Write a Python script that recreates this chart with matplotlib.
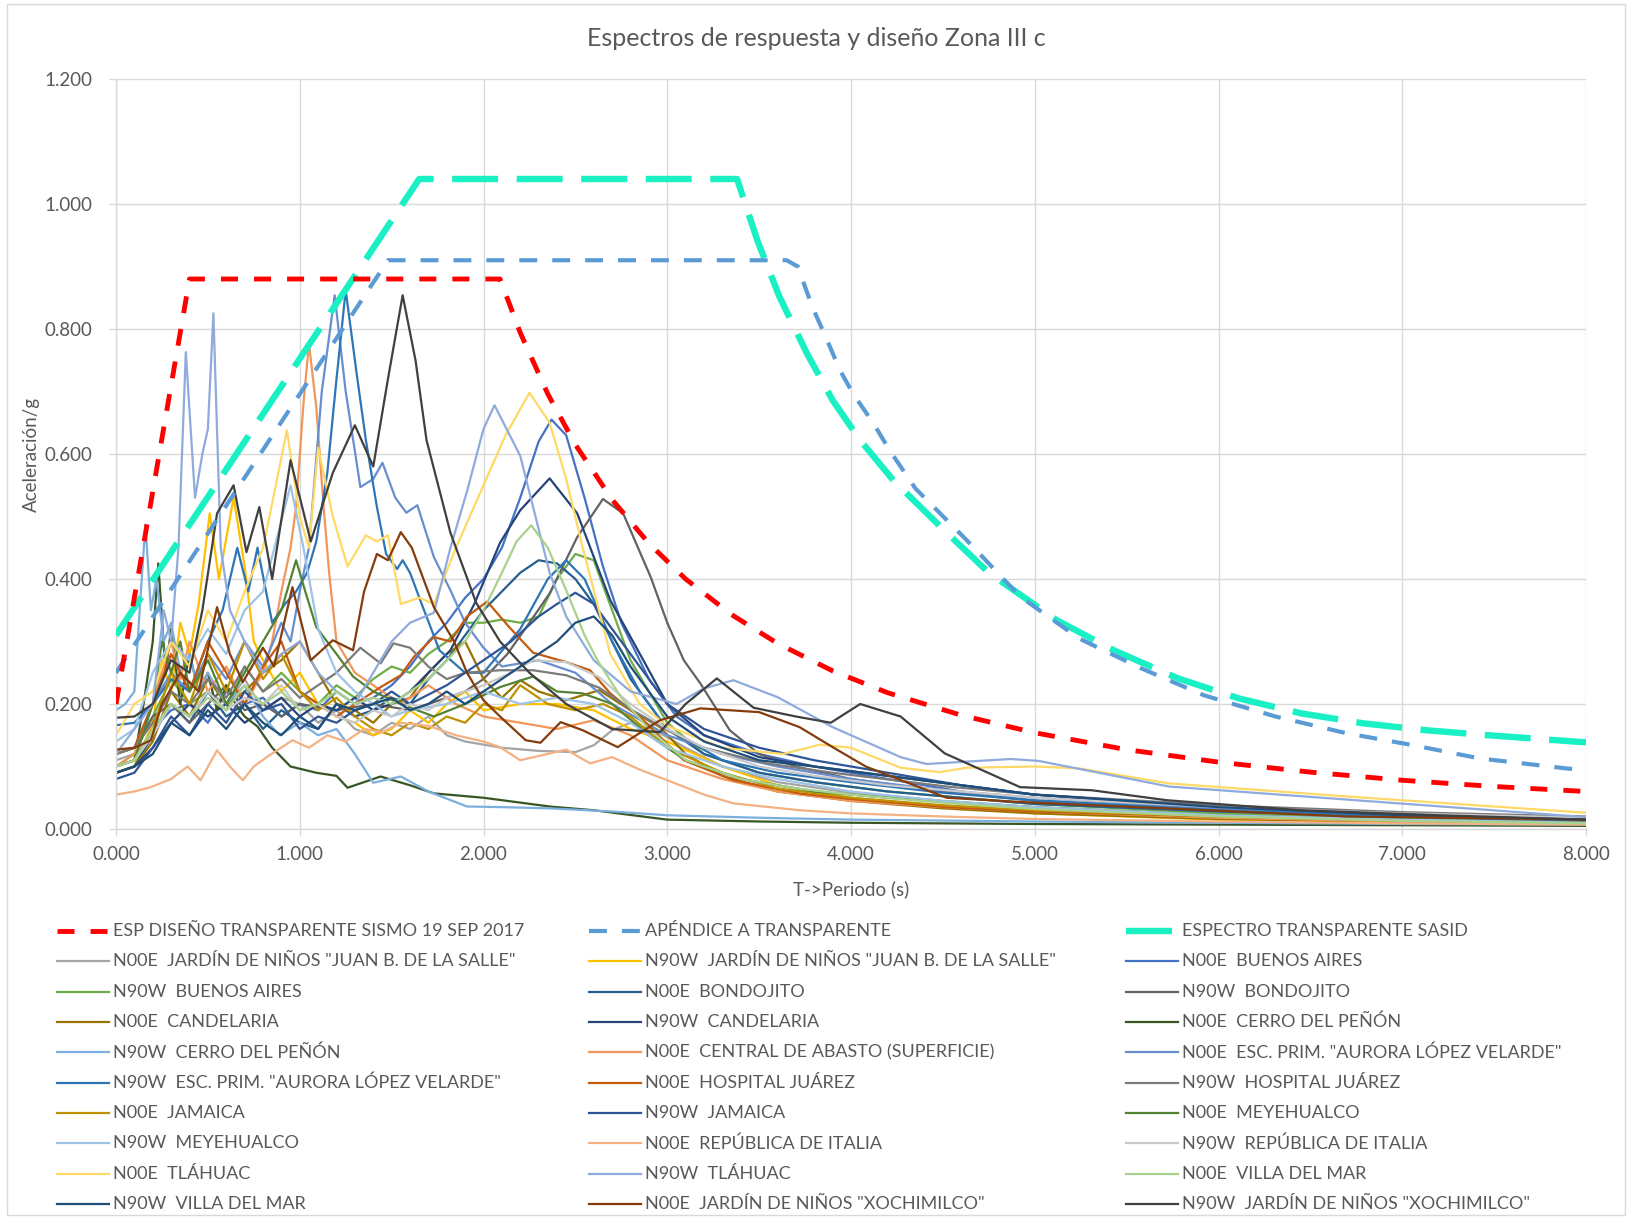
import matplotlib
matplotlib.use("Agg")
import matplotlib.pyplot as plt
from matplotlib.lines import Line2D
from matplotlib.patches import Rectangle

plt.rcParams['font.family'] = ['Lato', 'DejaVu Sans']

# ---------------- design spectra ----------------
red_t = [0.0, 0.40, 2.09, 2.2, 2.35, 2.5, 2.7, 2.9, 3.1, 3.35, 3.6, 3.9, 4.2, 4.6, 5.0, 5.5, 6.0, 6.5, 7.0, 7.5, 8.0]
red_sa = [0.20, 0.88, 0.88, 0.794, 0.696, 0.615, 0.527, 0.457, 0.400, 0.343, 0.297, 0.253, 0.218, 0.182, 0.154, 0.127, 0.107, 0.091, 0.078, 0.068, 0.060]

apa_t = [0.0, 1.48, 3.65, 3.71, 3.79, 3.87, 3.94, 4.01, 4.12, 4.21, 4.35, 4.63, 4.92, 5.24, 5.58, 5.92, 6.31, 6.70, 7.06, 7.42, 7.89, 8.0]
apa_sa = [0.25, 0.91, 0.91, 0.90, 0.835, 0.782, 0.734, 0.697, 0.65, 0.606, 0.545, 0.462, 0.372, 0.305, 0.257, 0.214, 0.18, 0.153, 0.134, 0.113, 0.097, 0.094]

sasid_t = [0.0, 1.65, 3.38, 3.49, 3.61, 3.76, 3.90, 4.05, 4.23, 4.5, 4.75, 5.12, 5.43, 5.78, 6.11, 6.45, 6.79, 7.13, 7.47, 7.98, 8.0]
sasid_sa = [0.31, 1.04, 1.04, 0.942, 0.852, 0.761, 0.686, 0.622, 0.558, 0.48, 0.41, 0.334, 0.286, 0.241, 0.209, 0.185, 0.169, 0.158, 0.150, 0.139, 0.139]

# ---------------- recorded response spectra ----------------
juanb_n00e_t = [0, 0.1, 0.2, 0.3, 0.4, 0.5, 0.6, 0.7, 0.8, 0.9, 1.0, 1.1, 1.2, 1.3, 1.4, 1.5, 1.6, 1.7, 1.8, 1.9, 2.0, 2.1, 2.3, 2.5, 2.6, 2.7, 2.8, 2.95, 3.1, 3.3, 3.6, 4.0, 4.5, 5.0, 6.0, 7.0, 8.0]
juanb_n00e_sa = [0.11, 0.12, 0.15, 0.2, 0.18, 0.22, 0.2, 0.24, 0.19, 0.21, 0.2, 0.17, 0.19, 0.16, 0.15, 0.17, 0.16, 0.18, 0.15, 0.14, 0.135, 0.13, 0.125, 0.123, 0.134, 0.158, 0.17, 0.155, 0.13, 0.1, 0.075, 0.058, 0.045, 0.035, 0.022, 0.015, 0.01]

juanb_n90w_t = [0, 0.1, 0.2, 0.25, 0.3, 0.35, 0.4, 0.45, 0.51, 0.56, 0.64, 0.7, 0.75, 0.8, 0.9, 1.0, 1.1, 1.2, 1.3, 1.4, 1.5, 1.6, 1.7, 1.8, 1.9, 2.0, 2.2, 2.4, 2.6, 2.8, 3.0, 3.3, 3.6, 4.0, 4.5, 5.0, 6.0, 7.0, 8.0]
juanb_n90w_sa = [0.09, 0.1, 0.17, 0.27, 0.22, 0.33, 0.28, 0.36, 0.505, 0.4, 0.53, 0.42, 0.3, 0.27, 0.22, 0.25, 0.2, 0.18, 0.17, 0.15, 0.16, 0.19, 0.17, 0.2, 0.22, 0.19, 0.2, 0.2, 0.19, 0.16, 0.14, 0.1, 0.07, 0.05, 0.035, 0.025, 0.015, 0.01, 0.008]

bsas_n00e_t = [0, 0.1, 0.2, 0.3, 0.4, 0.5, 0.6, 0.7, 0.8, 0.9, 1.0, 1.1, 1.2, 1.3, 1.4, 1.5, 1.6, 1.7, 1.8, 1.9, 2.0, 2.1, 2.2, 2.3, 2.37, 2.45, 2.55, 2.65, 2.75, 2.9, 3.05, 3.2, 3.5, 3.8, 4.2, 4.6, 5.0, 5.5, 6.0, 7.0, 8.0]
bsas_n00e_sa = [0.1, 0.11, 0.16, 0.19, 0.2, 0.17, 0.22, 0.2, 0.21, 0.18, 0.2, 0.19, 0.22, 0.2, 0.21, 0.23, 0.26, 0.3, 0.33, 0.37, 0.4, 0.45, 0.53, 0.62, 0.655, 0.63, 0.53, 0.42, 0.33, 0.24, 0.18, 0.15, 0.12, 0.1, 0.08, 0.06, 0.045, 0.035, 0.028, 0.018, 0.012]

bsas_n90w_t = [0, 0.1, 0.2, 0.3, 0.4, 0.5, 0.6, 0.7, 0.8, 0.9, 1.0, 1.1, 1.2, 1.3, 1.4, 1.5, 1.6, 1.7, 1.8, 1.9, 2.0, 2.1, 2.2, 2.3, 2.4, 2.5, 2.6, 2.7, 2.8, 3.0, 3.2, 3.5, 3.8, 4.2, 4.6, 5.0, 6.0, 7.0, 8.0]
bsas_n90w_sa = [0.1, 0.12, 0.18, 0.24, 0.2, 0.22, 0.19, 0.26, 0.22, 0.25, 0.22, 0.2, 0.23, 0.21, 0.24, 0.26, 0.25, 0.28, 0.3, 0.33, 0.33, 0.335, 0.33, 0.34, 0.4, 0.44, 0.43, 0.35, 0.27, 0.17, 0.12, 0.09, 0.075, 0.06, 0.05, 0.04, 0.025, 0.016, 0.01]

bond_n00e_t = [0, 0.1, 0.2, 0.3, 0.4, 0.5, 0.6, 0.7, 0.8, 0.9, 1.0, 1.1, 1.2, 1.3, 1.4, 1.5, 1.6, 1.7, 1.8, 1.9, 2.0, 2.1, 2.2, 2.3, 2.4, 2.5, 2.6, 2.7, 2.8, 3.0, 3.2, 3.5, 3.8, 4.2, 4.6, 5.0, 6.0, 7.0, 8.0]
bond_n00e_sa = [0.09, 0.1, 0.15, 0.2, 0.17, 0.22, 0.18, 0.2, 0.16, 0.19, 0.17, 0.16, 0.2, 0.18, 0.19, 0.21, 0.2, 0.24, 0.27, 0.31, 0.35, 0.38, 0.41, 0.43, 0.425, 0.4, 0.36, 0.3, 0.24, 0.16, 0.12, 0.09, 0.075, 0.06, 0.05, 0.04, 0.028, 0.02, 0.014]

bond_n90w_t = [0, 0.1, 0.2, 0.3, 0.4, 0.5, 0.6, 0.7, 0.8, 0.9, 1.0, 1.2, 1.4, 1.6, 1.8, 1.9, 2.0, 2.13, 2.25, 2.36, 2.51, 2.65, 2.76, 2.91, 3.0, 3.09, 3.18, 3.34, 3.5, 3.7, 4.0, 4.5, 5.0, 6.0, 7.0, 8.0]
bond_n90w_sa = [0.12, 0.13, 0.18, 0.2, 0.17, 0.2, 0.23, 0.19, 0.2, 0.18, 0.2, 0.19, 0.2, 0.19, 0.21, 0.22, 0.24, 0.28, 0.33, 0.377, 0.467, 0.528, 0.505, 0.403, 0.33, 0.27, 0.233, 0.158, 0.12, 0.1, 0.08, 0.06, 0.045, 0.03, 0.02, 0.013]

cand_n00e_t = [0, 0.1, 0.2, 0.3, 0.4, 0.5, 0.6, 0.7, 0.8, 0.9, 1.0, 1.1, 1.2, 1.3, 1.4, 1.5, 1.6, 1.7, 1.8, 1.9, 2.0, 2.1, 2.2, 2.3, 2.45, 2.63, 2.8, 2.96, 3.1, 3.3, 3.6, 4.0, 4.5, 5.0, 6.0, 7.0, 8.0]
cand_n00e_sa = [0.09, 0.1, 0.14, 0.22, 0.18, 0.24, 0.2, 0.22, 0.25, 0.27, 0.3, 0.25, 0.2, 0.19, 0.17, 0.2, 0.21, 0.25, 0.28, 0.3, 0.24, 0.21, 0.238, 0.22, 0.206, 0.222, 0.19, 0.163, 0.12, 0.085, 0.06, 0.045, 0.033, 0.025, 0.016, 0.011, 0.008]

cand_n90w_t = [0, 0.1, 0.2, 0.3, 0.4, 0.5, 0.6, 0.7, 0.8, 0.9, 1.0, 1.1, 1.2, 1.3, 1.4, 1.5, 1.6, 1.7, 1.82, 1.95, 2.09, 2.2, 2.36, 2.51, 2.69, 2.87, 3.0, 3.2, 3.5, 3.8, 4.2, 4.6, 5.0, 6.0, 7.0, 8.0]
cand_n90w_sa = [0.09, 0.1, 0.13, 0.17, 0.2, 0.18, 0.2, 0.17, 0.19, 0.21, 0.18, 0.2, 0.19, 0.21, 0.19, 0.2, 0.22, 0.25, 0.286, 0.36, 0.458, 0.51, 0.561, 0.505, 0.366, 0.27, 0.2, 0.15, 0.115, 0.1, 0.085, 0.07, 0.055, 0.035, 0.022, 0.015]

cerro_n00e_t = [0, 0.1, 0.15, 0.2, 0.23, 0.27, 0.3, 0.35, 0.4, 0.45, 0.5, 0.55, 0.6, 0.65, 0.7, 0.77, 0.85, 0.95, 1.09, 1.2, 1.26, 1.35, 1.44, 1.6, 1.73, 2.0, 2.36, 2.6, 3.0, 3.5, 4.0, 5.0, 6.0, 7.0, 8.0]
cerro_n00e_sa = [0.1, 0.11, 0.2, 0.3, 0.425, 0.25, 0.32, 0.2, 0.28, 0.22, 0.25, 0.19, 0.23, 0.2, 0.18, 0.164, 0.13, 0.1, 0.09, 0.085, 0.066, 0.075, 0.084, 0.07, 0.057, 0.05, 0.036, 0.03, 0.015, 0.012, 0.01, 0.008, 0.007, 0.006, 0.005]

cerro_n90w_t = [0, 0.05, 0.1, 0.14, 0.16, 0.19, 0.22, 0.26, 0.3, 0.35, 0.4, 0.45, 0.5, 0.6, 0.7, 0.8, 0.89, 1.0, 1.1, 1.2, 1.3, 1.4, 1.55, 1.7, 1.91, 2.1, 2.36, 2.7, 3.0, 3.5, 4.0, 5.0, 6.0, 7.0, 8.0]
cerro_n90w_sa = [0.19, 0.2, 0.22, 0.4, 0.487, 0.35, 0.4, 0.3, 0.33, 0.25, 0.28, 0.22, 0.25, 0.2, 0.23, 0.18, 0.15, 0.17, 0.15, 0.16, 0.12, 0.074, 0.084, 0.06, 0.036, 0.035, 0.033, 0.028, 0.022, 0.018, 0.015, 0.012, 0.01, 0.008, 0.007]

abasto_n00e_t = [0, 0.1, 0.2, 0.3, 0.35, 0.4, 0.5, 0.6, 0.7, 0.8, 0.85, 0.9, 0.95, 0.98, 1.02, 1.05, 1.09, 1.13, 1.16, 1.2, 1.3, 1.45, 1.55, 1.7, 1.85, 2.0, 2.2, 2.4, 2.6, 2.8, 3.0, 3.3, 3.6, 4.0, 4.5, 5.0, 6.0, 7.0, 8.0]
abasto_n00e_sa = [0.1, 0.12, 0.2, 0.3, 0.24, 0.3, 0.22, 0.26, 0.2, 0.25, 0.3, 0.38, 0.45, 0.515, 0.68, 0.777, 0.675, 0.515, 0.41, 0.3, 0.25, 0.22, 0.2, 0.23, 0.2, 0.18, 0.17, 0.16, 0.174, 0.15, 0.11, 0.08, 0.06, 0.045, 0.035, 0.028, 0.018, 0.012, 0.009]

escp_n00e_t = [0, 0.1, 0.2, 0.3, 0.4, 0.5, 0.6, 0.7, 0.8, 0.9, 0.95, 1.0, 1.05, 1.12, 1.19, 1.25, 1.33, 1.4, 1.45, 1.52, 1.58, 1.64, 1.73, 1.82, 1.9, 2.0, 2.1, 2.3, 2.5, 2.7, 3.0, 3.3, 3.6, 4.0, 4.5, 5.0, 6.0, 7.0, 8.0]
escp_n00e_sa = [0.12, 0.13, 0.2, 0.25, 0.22, 0.28, 0.24, 0.3, 0.26, 0.33, 0.3, 0.38, 0.45, 0.7, 0.854, 0.7, 0.547, 0.56, 0.586, 0.53, 0.506, 0.518, 0.435, 0.382, 0.33, 0.29, 0.26, 0.27, 0.25, 0.2, 0.15, 0.12, 0.1, 0.08, 0.062, 0.05, 0.032, 0.022, 0.015]

escp_n90w_t = [0, 0.1, 0.2, 0.3, 0.4, 0.5, 0.58, 0.66, 0.72, 0.77, 0.85, 0.92, 0.98, 1.04, 1.09, 1.15, 1.2, 1.25, 1.31, 1.36, 1.42, 1.47, 1.53, 1.56, 1.6, 1.67, 1.76, 1.9, 2.0, 2.2, 2.35, 2.45, 2.55, 2.7, 2.85, 3.0, 3.3, 3.6, 4.0, 4.5, 5.0, 6.0, 7.0, 8.0]
escp_n90w_sa = [0.166, 0.17, 0.2, 0.24, 0.22, 0.3, 0.35, 0.45, 0.38, 0.45, 0.33, 0.36, 0.38, 0.41, 0.46, 0.57, 0.72, 0.862, 0.728, 0.622, 0.515, 0.44, 0.416, 0.43, 0.41, 0.355, 0.286, 0.25, 0.25, 0.32, 0.4, 0.43, 0.4, 0.3, 0.22, 0.16, 0.11, 0.09, 0.075, 0.058, 0.046, 0.03, 0.02, 0.014]

hosp_n00e_t = [0, 0.1, 0.2, 0.3, 0.4, 0.5, 0.6, 0.7, 0.8, 0.9, 1.0, 1.1, 1.2, 1.3, 1.44, 1.55, 1.62, 1.73, 1.82, 1.91, 2.02, 2.14, 2.27, 2.45, 2.58, 2.69, 2.87, 3.09, 3.36, 3.72, 4.0, 4.52, 5.0, 6.0, 7.0, 8.0]
hosp_n00e_sa = [0.12, 0.13, 0.2, 0.28, 0.22, 0.3, 0.25, 0.2, 0.26, 0.3, 0.22, 0.2, 0.18, 0.2, 0.227, 0.246, 0.275, 0.307, 0.3, 0.34, 0.364, 0.323, 0.282, 0.267, 0.254, 0.217, 0.174, 0.11, 0.078, 0.057, 0.048, 0.035, 0.028, 0.02, 0.014, 0.01]

hosp_n90w_t = [0, 0.1, 0.2, 0.3, 0.4, 0.5, 0.6, 0.7, 0.8, 0.9, 1.0, 1.1, 1.2, 1.33, 1.44, 1.51, 1.6, 1.7, 1.8, 1.9, 2.09, 2.27, 2.45, 2.63, 2.81, 3.0, 3.2, 3.54, 3.9, 4.52, 5.0, 6.0, 7.0, 8.0]
hosp_n90w_sa = [0.12, 0.13, 0.17, 0.22, 0.2, 0.24, 0.21, 0.26, 0.22, 0.24, 0.21, 0.23, 0.25, 0.29, 0.265, 0.297, 0.29, 0.26, 0.24, 0.25, 0.254, 0.254, 0.246, 0.226, 0.19, 0.158, 0.13, 0.105, 0.09, 0.068, 0.055, 0.038, 0.027, 0.02]

jam_n00e_t = [0, 0.1, 0.2, 0.3, 0.4, 0.5, 0.6, 0.7, 0.8, 0.9, 1.0, 1.1, 1.2, 1.3, 1.4, 1.5, 1.6, 1.7, 1.8, 1.9, 2.0, 2.1, 2.2, 2.35, 2.5, 2.65, 2.8, 3.0, 3.3, 3.6, 4.0, 4.5, 5.0, 6.0, 7.0, 8.0]
jam_n00e_sa = [0.1, 0.11, 0.16, 0.25, 0.2, 0.28, 0.22, 0.3, 0.24, 0.28, 0.22, 0.19, 0.21, 0.18, 0.16, 0.15, 0.17, 0.16, 0.18, 0.17, 0.2, 0.19, 0.23, 0.2, 0.19, 0.2, 0.18, 0.13, 0.09, 0.065, 0.05, 0.038, 0.03, 0.02, 0.013, 0.009]

jam_n90w_t = [0, 0.1, 0.2, 0.3, 0.4, 0.5, 0.6, 0.7, 0.8, 0.9, 1.0, 1.1, 1.2, 1.3, 1.4, 1.5, 1.6, 1.8, 2.0, 2.15, 2.3, 2.4, 2.5, 2.6, 2.7, 2.85, 3.0, 3.2, 3.5, 3.8, 4.2, 4.6, 5.0, 6.0, 7.0, 8.0]
jam_n90w_sa = [0.08, 0.09, 0.13, 0.18, 0.15, 0.2, 0.17, 0.22, 0.19, 0.2, 0.16, 0.18, 0.17, 0.19, 0.2, 0.22, 0.2, 0.23, 0.27, 0.3, 0.34, 0.36, 0.378, 0.36, 0.32, 0.26, 0.2, 0.16, 0.13, 0.11, 0.09, 0.07, 0.055, 0.035, 0.023, 0.015]

mey_n00e_t = [0, 0.1, 0.2, 0.25, 0.3, 0.35, 0.4, 0.5, 0.6, 0.7, 0.8, 0.9, 0.98, 1.03, 1.09, 1.2, 1.29, 1.4, 1.55, 1.73, 1.9, 2.09, 2.27, 2.4, 2.54, 2.7, 2.9, 3.1, 3.4, 3.8, 4.2, 5.0, 6.0, 7.0, 8.0]
mey_n00e_sa = [0.1, 0.11, 0.2, 0.3, 0.25, 0.3, 0.22, 0.27, 0.2, 0.25, 0.3, 0.35, 0.43, 0.38, 0.323, 0.28, 0.244, 0.22, 0.2, 0.18, 0.2, 0.227, 0.244, 0.22, 0.217, 0.2, 0.15, 0.11, 0.08, 0.06, 0.05, 0.035, 0.022, 0.015, 0.01]

mey_n90w_t = [0, 0.1, 0.2, 0.3, 0.4, 0.5, 0.6, 0.7, 0.8, 0.88, 0.95, 1.02, 1.1, 1.2, 1.3, 1.4, 1.5, 1.6, 1.8, 2.0, 2.2, 2.4, 2.6, 2.8, 3.0, 3.3, 3.6, 4.0, 4.5, 5.0, 6.0, 7.0, 8.0]
mey_n90w_sa = [0.14, 0.16, 0.25, 0.3, 0.27, 0.32, 0.28, 0.35, 0.38, 0.47, 0.55, 0.45, 0.32, 0.25, 0.22, 0.2, 0.18, 0.19, 0.2, 0.22, 0.2, 0.21, 0.2, 0.17, 0.13, 0.1, 0.08, 0.06, 0.045, 0.035, 0.022, 0.015, 0.01]

ital_n00e_t = [0, 0.1, 0.19, 0.3, 0.39, 0.46, 0.55, 0.62, 0.69, 0.75, 0.82, 0.96, 1.05, 1.15, 1.25, 1.35, 1.45, 1.55, 1.7, 1.85, 2.0, 2.09, 2.2, 2.45, 2.58, 2.7, 2.85, 3.0, 3.2, 3.36, 3.72, 4.0, 4.5, 5.0, 6.0, 7.0, 8.0]
ital_n00e_sa = [0.055, 0.06, 0.067, 0.08, 0.1, 0.078, 0.126, 0.1, 0.078, 0.1, 0.115, 0.142, 0.13, 0.15, 0.14, 0.16, 0.155, 0.17, 0.165, 0.15, 0.14, 0.131, 0.11, 0.127, 0.105, 0.115, 0.095, 0.078, 0.055, 0.041, 0.03, 0.025, 0.02, 0.016, 0.012, 0.009, 0.007]

ital_n90w_t = [0, 0.1, 0.2, 0.3, 0.4, 0.5, 0.6, 0.7, 0.8, 0.9, 1.0, 1.1, 1.2, 1.3, 1.4, 1.5, 1.6, 1.7, 1.8, 1.9, 2.0, 2.15, 2.27, 2.45, 2.63, 2.8, 3.0, 3.2, 3.5, 3.8, 4.2, 4.6, 5.0, 6.0, 7.0, 8.0]
ital_n90w_sa = [0.1, 0.11, 0.15, 0.2, 0.18, 0.22, 0.19, 0.21, 0.2, 0.23, 0.19, 0.2, 0.18, 0.17, 0.19, 0.18, 0.2, 0.19, 0.21, 0.22, 0.23, 0.25, 0.27, 0.267, 0.243, 0.2, 0.16, 0.13, 0.1, 0.085, 0.07, 0.06, 0.05, 0.035, 0.025, 0.018]

tlah_n00e_t = [0, 0.1, 0.2, 0.3, 0.4, 0.5, 0.6, 0.7, 0.8, 0.87, 0.93, 1.0, 1.05, 1.1, 1.18, 1.26, 1.36, 1.42, 1.48, 1.55, 1.65, 1.73, 1.85, 2.0, 2.12, 2.25, 2.36, 2.45, 2.54, 2.69, 2.85, 3.0, 3.3, 3.63, 3.83, 4.0, 4.27, 4.48, 4.63, 5.0, 5.24, 5.73, 6.7, 8.0]
tlah_n00e_sa = [0.15, 0.2, 0.22, 0.3, 0.26, 0.35, 0.3, 0.38, 0.45, 0.55, 0.638, 0.5, 0.45, 0.61, 0.5, 0.42, 0.47, 0.46, 0.47, 0.36, 0.37, 0.36, 0.45, 0.55, 0.63, 0.698, 0.65, 0.56, 0.45, 0.28, 0.2, 0.165, 0.13, 0.12, 0.135, 0.13, 0.098, 0.091, 0.098, 0.1, 0.097, 0.073, 0.052, 0.026]

tlah_n90w_t = [0, 0.1, 0.2, 0.26, 0.3, 0.34, 0.38, 0.43, 0.47, 0.5, 0.53, 0.57, 0.62, 0.7, 0.8, 0.9, 1.0, 1.1, 1.2, 1.3, 1.4, 1.5, 1.6, 1.73, 1.82, 1.91, 2.0, 2.06, 2.2, 2.27, 2.36, 2.45, 2.6, 2.8, 3.05, 3.2, 3.36, 3.6, 3.9, 4.27, 4.41, 4.87, 5.02, 5.73, 8.0]
tlah_n90w_sa = [0.12, 0.16, 0.2, 0.35, 0.3, 0.45, 0.763, 0.53, 0.6, 0.64, 0.825, 0.45, 0.35, 0.3, 0.25, 0.28, 0.3, 0.25, 0.22, 0.2, 0.25, 0.3, 0.33, 0.346, 0.45, 0.54, 0.64, 0.678, 0.597, 0.515, 0.41, 0.34, 0.27, 0.22, 0.2, 0.225, 0.238, 0.211, 0.163, 0.115, 0.104, 0.112, 0.109, 0.068, 0.019]

vmar_n00e_t = [0, 0.1, 0.2, 0.3, 0.4, 0.5, 0.6, 0.7, 0.8, 0.9, 1.0, 1.1, 1.2, 1.3, 1.4, 1.5, 1.6, 1.7, 1.8, 1.9, 2.0, 2.1, 2.18, 2.26, 2.35, 2.45, 2.55, 2.62, 2.75, 2.9, 3.1, 3.4, 3.7, 4.0, 4.5, 5.0, 6.0, 7.0, 8.0]
vmar_n00e_sa = [0.1, 0.11, 0.16, 0.2, 0.18, 0.21, 0.19, 0.23, 0.2, 0.22, 0.19, 0.2, 0.22, 0.2, 0.21, 0.2, 0.22, 0.24, 0.27, 0.3, 0.35, 0.41, 0.46, 0.486, 0.45, 0.382, 0.31, 0.27, 0.21, 0.16, 0.11, 0.08, 0.065, 0.055, 0.042, 0.032, 0.02, 0.013, 0.009]

vmar_n90w_t = [0, 0.1, 0.2, 0.3, 0.4, 0.5, 0.6, 0.7, 0.8, 0.9, 1.0, 1.1, 1.2, 1.3, 1.4, 1.5, 1.6, 1.7, 1.8, 1.9, 2.0, 2.1, 2.2, 2.3, 2.4, 2.5, 2.6, 2.7, 2.8, 3.0, 3.2, 3.5, 3.8, 4.2, 4.6, 5.0, 6.0, 7.0, 8.0]
vmar_n90w_sa = [0.09, 0.1, 0.12, 0.17, 0.15, 0.19, 0.16, 0.2, 0.17, 0.15, 0.18, 0.16, 0.2, 0.19, 0.2, 0.21, 0.19, 0.2, 0.22, 0.2, 0.22, 0.24, 0.26, 0.28, 0.3, 0.33, 0.34, 0.31, 0.26, 0.18, 0.14, 0.11, 0.1, 0.085, 0.07, 0.055, 0.035, 0.022, 0.015]

xoch_n00e_t = [0, 0.1, 0.19, 0.25, 0.35, 0.45, 0.55, 0.62, 0.69, 0.8, 0.86, 0.96, 1.06, 1.18, 1.29, 1.35, 1.42, 1.48, 1.55, 1.61, 1.73, 1.84, 1.91, 2.0, 2.09, 2.23, 2.31, 2.42, 2.54, 2.73, 2.96, 3.18, 3.5, 3.72, 3.9, 4.08, 4.52, 5.0, 5.72, 6.7, 8.0]
xoch_n00e_sa = [0.127, 0.13, 0.142, 0.2, 0.25, 0.22, 0.355, 0.28, 0.235, 0.29, 0.26, 0.387, 0.27, 0.302, 0.286, 0.38, 0.44, 0.43, 0.475, 0.45, 0.355, 0.3, 0.25, 0.206, 0.18, 0.142, 0.138, 0.171, 0.158, 0.131, 0.174, 0.193, 0.187, 0.163, 0.131, 0.1, 0.05, 0.042, 0.033, 0.02, 0.015]

xoch_n90w_t = [0, 0.1, 0.2, 0.3, 0.4, 0.47, 0.55, 0.64, 0.71, 0.78, 0.85, 0.95, 1.06, 1.18, 1.3, 1.4, 1.48, 1.56, 1.63, 1.69, 1.82, 1.96, 2.09, 2.25, 2.45, 2.7, 2.96, 3.1, 3.27, 3.47, 3.7, 3.89, 4.05, 4.27, 4.51, 4.92, 5.31, 5.72, 6.45, 7.2, 8.0]
xoch_n90w_sa = [0.178, 0.18, 0.2, 0.27, 0.25, 0.35, 0.505, 0.55, 0.443, 0.515, 0.4, 0.59, 0.46, 0.57, 0.646, 0.58, 0.72, 0.854, 0.75, 0.622, 0.474, 0.362, 0.3, 0.25, 0.2, 0.16, 0.155, 0.2, 0.241, 0.194, 0.18, 0.17, 0.2, 0.18, 0.121, 0.067, 0.062, 0.046, 0.03, 0.022, 0.015]

design_labels = ["ESP DISEÑO TRANSPARENTE SISMO 19 SEP 2017",
                 "APÉNDICE A TRANSPARENTE",
                 "ESPECTRO TRANSPARENTE SASID"]

record_labels = [
    'N00E  JARDÍN DE NIÑOS "JUAN B. DE LA SALLE"',
    'N90W  JARDÍN DE NIÑOS "JUAN B. DE LA SALLE"',
    'N00E  BUENOS AIRES',
    'N90W  BUENOS AIRES',
    'N00E  BONDOJITO',
    'N90W  BONDOJITO',
    'N00E  CANDELARIA',
    'N90W  CANDELARIA',
    'N00E  CERRO DEL PEÑÓN',
    'N90W  CERRO DEL PEÑÓN',
    'N00E  CENTRAL DE ABASTO (SUPERFICIE)',
    'N00E  ESC. PRIM. "AURORA LÓPEZ VELARDE"',
    'N90W  ESC. PRIM. "AURORA LÓPEZ VELARDE"',
    'N00E  HOSPITAL JUÁREZ',
    'N90W  HOSPITAL JUÁREZ',
    'N00E  JAMAICA',
    'N90W  JAMAICA',
    'N00E  MEYEHUALCO',
    'N90W  MEYEHUALCO',
    'N00E  REPÚBLICA DE ITALIA',
    'N90W  REPÚBLICA DE ITALIA',
    'N00E  TLÁHUAC',
    'N90W  TLÁHUAC',
    'N00E  VILLA DEL MAR',
    'N90W  VILLA DEL MAR',
    'N00E  JARDÍN DE NIÑOS "XOCHIMILCO"',
    'N90W  JARDÍN DE NIÑOS "XOCHIMILCO"',
]

record_t = [juanb_n00e_t, juanb_n90w_t, bsas_n00e_t, bsas_n90w_t, bond_n00e_t, bond_n90w_t,
            cand_n00e_t, cand_n90w_t, cerro_n00e_t, cerro_n90w_t, abasto_n00e_t, escp_n00e_t,
            escp_n90w_t, hosp_n00e_t, hosp_n90w_t, jam_n00e_t, jam_n90w_t, mey_n00e_t,
            mey_n90w_t, ital_n00e_t, ital_n90w_t, tlah_n00e_t, tlah_n90w_t, vmar_n00e_t,
            vmar_n90w_t, xoch_n00e_t, xoch_n90w_t]
record_sa = [juanb_n00e_sa, juanb_n90w_sa, bsas_n00e_sa, bsas_n90w_sa, bond_n00e_sa, bond_n90w_sa,
             cand_n00e_sa, cand_n90w_sa, cerro_n00e_sa, cerro_n90w_sa, abasto_n00e_sa, escp_n00e_sa,
             escp_n90w_sa, hosp_n00e_sa, hosp_n90w_sa, jam_n00e_sa, jam_n90w_sa, mey_n00e_sa,
             mey_n90w_sa, ital_n00e_sa, ital_n90w_sa, tlah_n00e_sa, tlah_n90w_sa, vmar_n00e_sa,
             vmar_n90w_sa, xoch_n00e_sa, xoch_n90w_sa]

record_colors = ['#A5A5A5', '#FFC000', '#4472C4', '#70AD47', '#255E91', '#636363',
                 '#997300', '#264478', '#375623', '#7CAFDD', '#F1975A', '#698ED0',
                 '#2E75B6', '#C55A11', '#7B7B7B', '#BF9000', '#2F5597', '#548235',
                 '#9DC3E6', '#F4B183', '#C9C9C9', '#FFD966', '#8FAADC', '#A9D18E',
                 '#1F4E79', '#843C0C', '#404040']

# ---------------- figure ----------------
W, H = 1630, 1217
fig = plt.figure(figsize=(W / 100, H / 100), dpi=100)
fig.patch.set_facecolor('white')
fig.add_artist(Rectangle((7 / W, 2 / H), (1625 - 7) / W, (1213 - 2) / H,
                         transform=fig.transFigure, fill=False,
                         edgecolor='#D9D9D9', linewidth=1.0))

ax = fig.add_axes([116 / W, 1 - 829 / H, (1586 - 116) / W, (829 - 79) / H])
ax.set_xlim(0, 8)
ax.set_ylim(0, 1.2)
ax.set_xticks([0, 1, 2, 3, 4, 5, 6, 7, 8])
ax.set_yticks([0, 0.2, 0.4, 0.6, 0.8, 1.0, 1.2])
ax.xaxis.set_major_formatter(matplotlib.ticker.FormatStrFormatter('%.3f'))
ax.yaxis.set_major_formatter(matplotlib.ticker.FormatStrFormatter('%.3f'))
ax.grid(True, color='#D9D9D9', linewidth=1.0)
ax.set_axisbelow(True)
for side in ('top', 'right'):
    ax.spines[side].set_visible(False)
for side in ('left', 'bottom'):
    ax.spines[side].set_color('#D9D9D9')
    ax.spines[side].set_linewidth(1.0)
ax.tick_params(axis='both', length=5, width=1, color='#D9D9D9',
               labelcolor='#595959', labelsize=13.5)
ax.tick_params(axis='y', pad=12)
ax.tick_params(axis='x', pad=7)

rec_lw = 1.6
for t, sa, c in zip(record_t, record_sa, record_colors):
    ax.plot(t, sa, color=c, lw=rec_lw, solid_joinstyle='round', zorder=2)

ax.plot(sasid_t, sasid_sa, color='#19F0C4', lw=4.6, dashes=(7.2, 2.9),
        dash_capstyle='butt', zorder=3)
ax.plot(apa_t, apa_sa, color='#5B9BD5', lw=3.0, dashes=(4.3, 3.6),
        dash_capstyle='butt', zorder=3)
ax.plot(red_t, red_sa, color='#FF0000', lw=3.5, dashes=(3.5, 3.3),
        dash_capstyle='butt', zorder=4)

fig.text(816 / W, 1 - 38 / H, "Espectros de respuesta y diseño Zona III c",
         ha='center', va='center', fontsize=18, color='#595959')
fig.text(851 / W, 1 - 889 / H, "T->Periodo (s)", ha='center', va='center',
         fontsize=13.5, color='#595959')
fig.text(31 / W, 1 - 454 / H, "Aceleración/g", ha='center', va='center',
         rotation=90, fontsize=13.5, color='#595959')

# ---------------- legend (three columns, filled row by row) ----------------
entries = []
entries.append((design_labels[0], dict(color='#FF0000', lw=3.5, dashes=(3.5, 3.3), dash_capstyle='butt')))
entries.append((design_labels[1], dict(color='#5B9BD5', lw=3.0, dashes=(4.3, 3.6), dash_capstyle='butt')))
entries.append((design_labels[2], dict(color='#19F0C4', lw=4.6, dashes=(7.2, 2.9), dash_capstyle='butt')))
for lab, c in zip(record_labels, record_colors):
    entries.append((lab, dict(color=c, lw=rec_lw)))

col_x = [57, 589, 1126]
row_y0, row_dy = 931, 30.35
handle_len = 52
for i, (lab, style) in enumerate(entries):
    r, cidx = divmod(i, 3)
    x0 = col_x[cidx]
    y = row_y0 + r * row_dy
    fig.add_artist(Line2D([x0 / W, (x0 + handle_len) / W], [1 - y / H, 1 - y / H],
                          transform=fig.transFigure, **style))
    fig.text((x0 + handle_len + 4) / W, 1 - y / H, lab, ha='left', va='center',
             fontsize=13, color='#595959')

fig.savefig("out.png", dpi=100, facecolor='white')
